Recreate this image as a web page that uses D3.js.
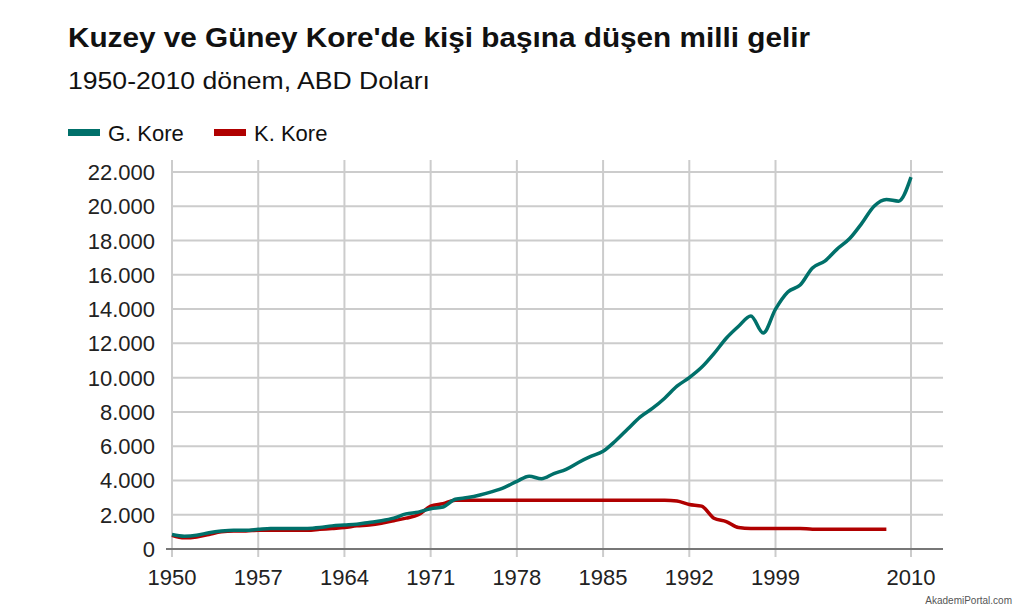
<!DOCTYPE html>
<html><head><meta charset="utf-8">
<script src="https://cdn.jsdelivr.net/npm/d3@7"></script>
<style>body{margin:0;background:#fff;font-family:"Liberation Sans",Arial,sans-serif}</style>
</head><body><svg id="c" width="1024" height="609"></svg>
<script>
var years = d3.range(1950, 2011);
var southKorea = [850,750,800,950,1050,1100,1100,1150,1200,1200,1200,1200,1250,1350,1400,1450,1550,1650,1800,2050,2150,2350,2450,2900,3000,3150,3350,3600,3950,4250,4100,4400,4650,5050,5400,5700,6300,7000,7700,8200,8800,9500,10000,10600,11400,12300,13000,13600,12600,14000,15000,15400,16400,16800,17500,18100,19000,20000,20400,20300,21700];
var northKorea = [800,650,700,850,1000,1050,1050,1100,1100,1100,1100,1100,1150,1200,1250,1350,1400,1500,1650,1800,2000,2500,2650,2850,2850,2850,2850,2850,2850,2850,2850,2850,2850,2850,2850,2850,2850,2850,2850,2850,2850,2800,2600,2500,1800,1600,1250,1200,1200,1200,1200,1200,1150,1150,1150,1150,1150,1150,1150];
var xTicks = [1950,1957,1964,1971,1978,1985,1992,1999,2010];
var yTicks = d3.range(0, 22001, 2000);

var svg = d3.select("#c");
var x = d3.scaleLinear().domain([1950, 2010]).range([172, 911]);
var y = d3.scaleLinear().domain([0, 22000]).range([549, 172]);

svg.append("text").attr("x", 68).attr("y", 47).attr("font-size", 28).attr("font-weight", "bold").attr("fill", "#111")
  .attr("textLength", 742).attr("lengthAdjust", "spacingAndGlyphs")
  .text("Kuzey ve Güney Kore'de kişi başına düşen milli gelir");
svg.append("text").attr("x", 68).attr("y", 89).attr("font-size", 23).attr("fill", "#111")
  .attr("textLength", 362).attr("lengthAdjust", "spacingAndGlyphs")
  .text("1950-2010 dönem, ABD Doları");

var legend = [["G. Kore", "#00706a"], ["K. Kore", "#b00000"]];
legend.forEach(function(d, i) {
  var lx = 68 + i * 146;
  svg.append("rect").attr("x", lx).attr("y", 129).attr("width", 32).attr("height", 7).attr("fill", d[1]);
  svg.append("text").attr("x", lx + 40).attr("y", 141).attr("font-size", 22).attr("fill", "#111").text(d[0]);
});

var grid = svg.append("g");
yTicks.forEach(function(t) {
  grid.append("line").attr("x1", 172).attr("x2", 943).attr("y1", y(t)).attr("y2", y(t))
    .attr("stroke", "#ccc").attr("stroke-width", 2);
  svg.append("text").attr("x", 155).attr("y", y(t) + 8).attr("text-anchor", "end")
    .attr("font-size", 22).attr("fill", "#222").text(d3.format(",")(t).replace(/,/g, "."));
});
xTicks.forEach(function(t) {
  grid.append("line").attr("x1", x(t)).attr("x2", x(t)).attr("y1", 160).attr("y2", 557)
    .attr("stroke", "#ccc").attr("stroke-width", 2);
  svg.append("text").attr("x", x(t)).attr("y", 585).attr("text-anchor", "middle")
    .attr("font-size", 22).attr("fill", "#222").text(t);
});
svg.append("line").attr("x1", 166).attr("x2", 943).attr("y1", 549).attr("y2", 549).attr("stroke", "#777").attr("stroke-width", 2);

var line = d3.line().x(function(d) { return x(d[0]); }).y(function(d) { return y(d[1]); }).curve(d3.curveMonotoneX);
svg.append("path").datum(northKorea.map(function(v, i) { return [years[i], v]; }))
  .attr("d", line).attr("fill", "none").attr("stroke", "#b00000").attr("stroke-width", 3.5);
svg.append("path").datum(southKorea.map(function(v, i) { return [years[i], v]; }))
  .attr("d", line).attr("fill", "none").attr("stroke", "#00706a").attr("stroke-width", 3.5);

svg.append("text").attr("x", 1012).attr("y", 604).attr("text-anchor", "end").attr("font-size", 10).attr("fill", "#555").text("AkademiPortal.com");
</script></body></html>
